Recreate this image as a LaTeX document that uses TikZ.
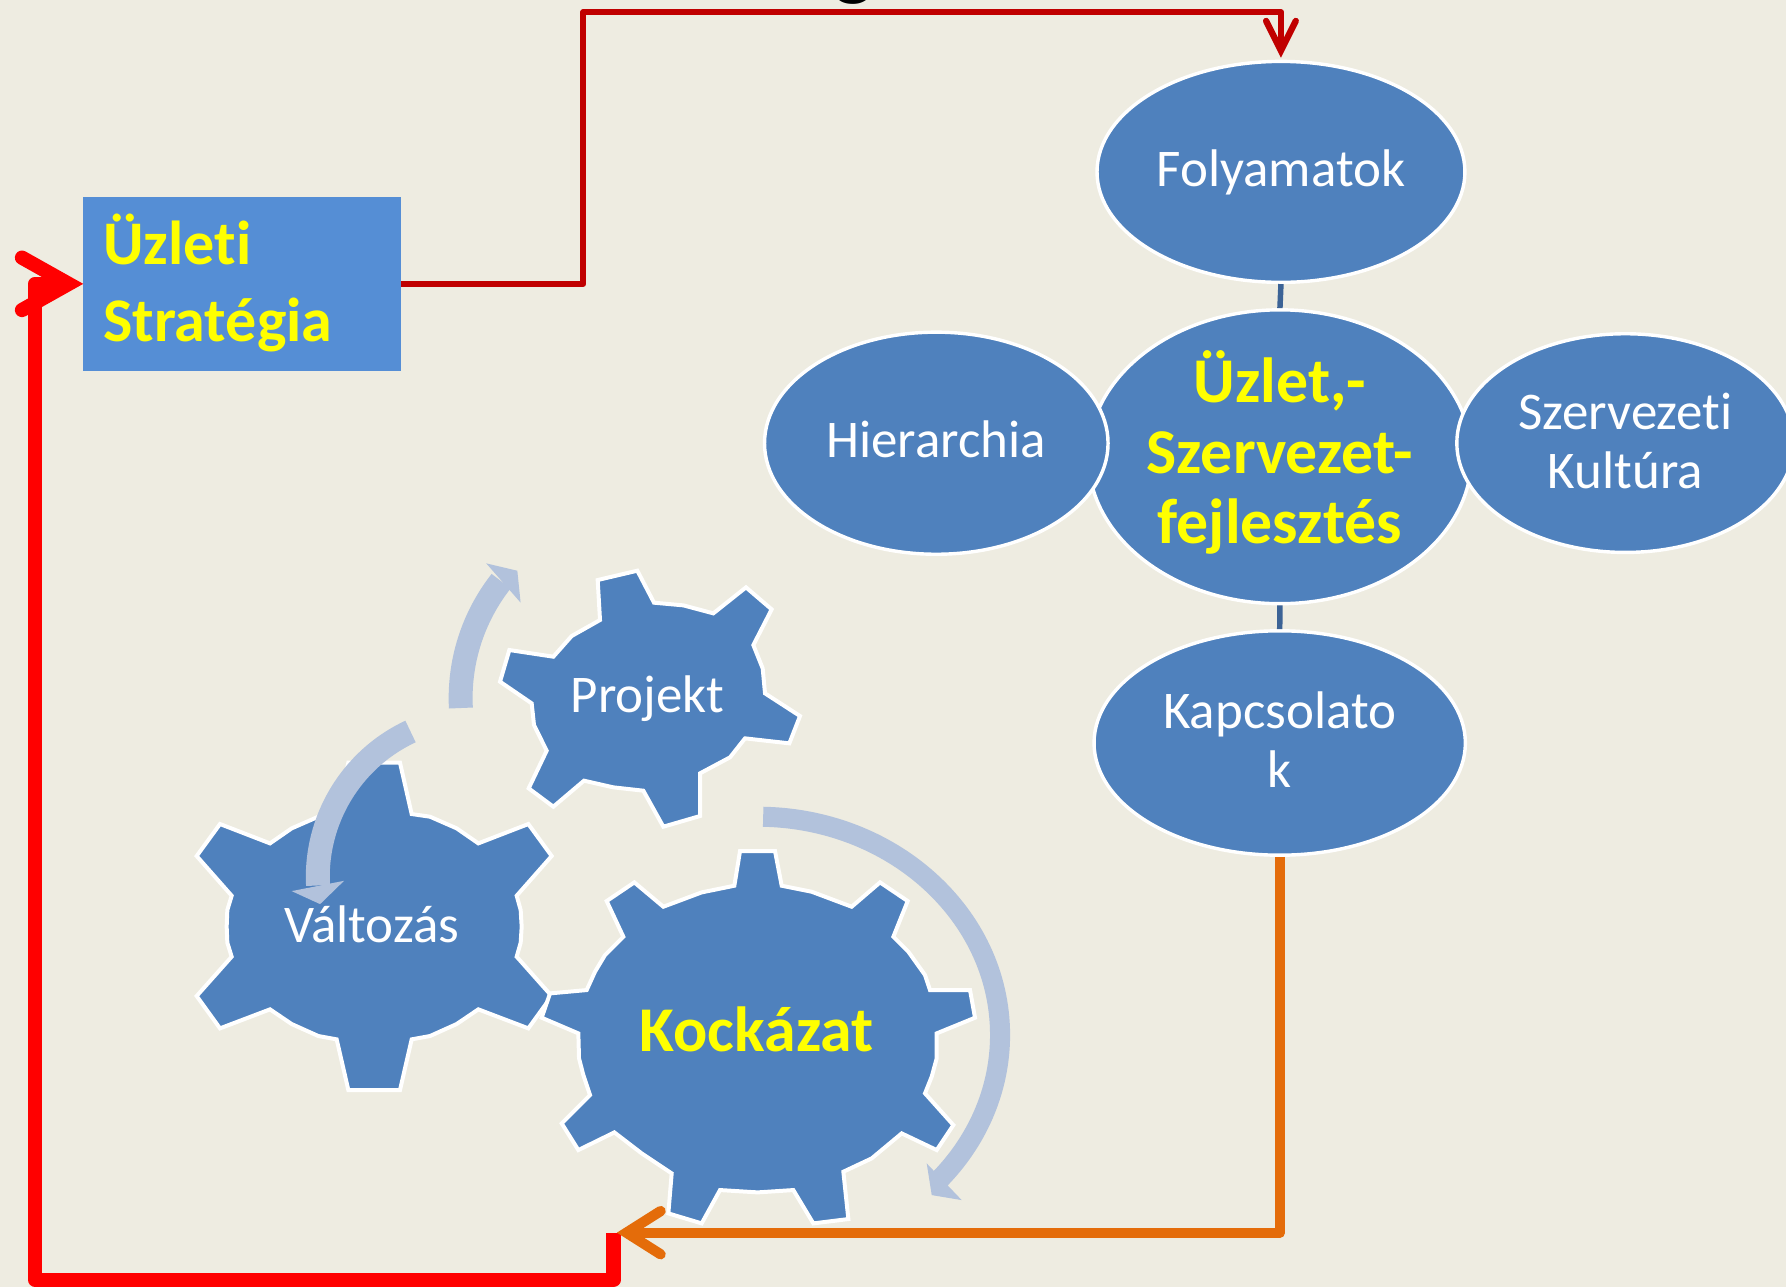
\documentclass[tikz,border=0pt]{standalone}
\usepackage{fontspec}
\setmainfont{Carlito}[Ligatures={NoCommon}]
\usetikzlibrary{shapes.geometric}
\definecolor{bgcol}{RGB}{238,236,225}
\definecolor{ellblue}{RGB}{79,129,189}
\definecolor{boxblue}{RGB}{85,142,213}
\definecolor{darkred}{RGB}{192,0,0}
\definecolor{brightred}{RGB}{255,0,0}
\definecolor{orangeline}{RGB}{228,108,10}
\definecolor{linkblue}{RGB}{60,99,150}
\definecolor{arccol}{RGB}{178,194,220}
\definecolor{txtyellow}{RGB}{255,255,0}
\begin{document}
\begin{tikzpicture}[x=1pt,y=-1pt,
  ell/.style={ellipse, fill=ellblue, draw=white, line width=3pt, inner sep=0pt, text=white,
    font={\fontsize{46.5pt}{51.5pt}\selectfont}},
  ellbold/.style={ell, text=txtyellow, font={\bfseries\fontsize{56pt}{62pt}\selectfont}},
  stratbox/.style={rectangle, fill=boxblue, inner sep=0pt, text=txtyellow,
    font={\bfseries\fontsize{54.5pt}{68pt}\selectfont}},
  gearshape/.style={fill=ellblue, draw=white, line width=3.5pt, line join=miter},
  geartext/.style={anchor=base, inner sep=0pt, text=white, font={\fontsize{46.5pt}{51.5pt}\selectfont}},
  gearbold/.style={anchor=base, inner sep=0pt, text=txtyellow, font={\bfseries\fontsize{56pt}{62pt}\selectfont}},
  linkline/.style={draw=linkblue, line width=4.8pt},
  drline/.style={draw=darkred, line width=5.6pt, line join=round},
  redline/.style={draw=brightred, line width=12.5pt, line join=round},
  orline/.style={draw=orangeline, line width=9pt, line join=round},
  band/.style={draw=arccol},
  headfill/.style={fill=arccol}
]
\fill[bgcol] (0,0) rectangle (1568,1130);
\useasboundingbox (0,0) rectangle (1568,1130);
\begin{scope}
\clip (0,0) rectangle (1568,1130);

% fragment of a title letter, cut by the top edge as in the reference
\node[anchor=base, inner sep=0pt, text=black, font={\bfseries\fontsize{72pt}{72pt}\selectfont}] (gfrag) at (749.7,-8) {g};

% strategy box
\node[stratbox, minimum width=278.8pt, minimum height=152.4pt, text height=0pt, text depth=34.4pt]
  (box) at (212.4,249.2)
  {\makebox[243.4pt][l]{\begin{tabular}[t]{@{}l@{}}Üzleti\\Stratégia\end{tabular}}};

% gears
\begin{scope}[shift={(166.81,658.47)}, x=0.29265pt, y=-0.29265pt]
\draw[gearshape] (475,38) -- (630,38) -- (665,192) -- (720,200) -- (800,235) -- (865,280)
  -- (1015,222) -- (1085,318) -- (980,437) -- (992,480) -- (995,530) -- (992,578) -- (980,620)
  -- (1085,738) -- (1015,835) -- (865,778) -- (800,822) -- (720,858) -- (665,868)
  -- (630,1020) -- (475,1020) -- (440,868) -- (385,858) -- (305,822) -- (240,778)
  -- (90,835) -- (20,738) -- (125,620) -- (112,578) -- (110,530) -- (112,480) -- (125,437)
  -- (20,318) -- (90,222) -- (240,280) -- (305,235) -- (385,200) -- (440,192) -- cycle;
\end{scope}
\begin{scope}[shift={(377.52,474.10)}, x=0.29265pt, y=-0.29265pt]
\draw[gearshape] (503,120) -- (622,92) -- (672,188) -- (760,196) -- (850,220) -- (948,142)
  -- (1025,208) -- (970,315) -- (998,385) -- (1005,460) -- (1110,528) -- (1078,610)
  -- (945,595) -- (900,652) -- (810,700) -- (810,828) -- (700,860) -- (640,752)
  -- (550,742) -- (462,722) -- (370,800) -- (296,745) -- (350,632) -- (312,555)
  -- (305,490) -- (210,425) -- (238,330) -- (370,350) -- (425,288) -- (510,240) -- cycle;
\end{scope}
\begin{scope}[shift={(469.71,698.0)}, x=0.29265pt, y=-0.29265pt]
\draw[gearshape] (615,168) -- (720,168) -- (740,272) -- (830,290) -- (950,335) -- (1035,262)
  -- (1118,318) -- (1075,425) -- (1120,470) -- (1170,540) -- (1185,585) -- (1305,585)
  -- (1320,668) -- (1205,715) -- (1205,790) -- (1190,845) -- (1170,895) -- (1255,990)
  -- (1205,1065) -- (1100,1015) -- (1010,1090) -- (925,1130) -- (940,1272) -- (835,1285)
  -- (775,1185) -- (668,1192) -- (555,1185) -- (500,1285) -- (400,1255) -- (410,1135)
  -- (320,1075) -- (238,1012) -- (130,1065) -- (80,985) -- (165,900) -- (145,840)
  -- (132,790) -- (130,715) -- (20,668) -- (45,595) -- (155,585) -- (180,530)
  -- (210,480) -- (265,425) -- (215,318) -- (298,262) -- (385,335) -- (500,292)
  -- (598,272) -- cycle;
\end{scope}
\node[geartext] (projt) at (568.5,625.7) {Projekt};
\node[geartext] (valt) at (326.3,827.6) {Változás};
\node[gearbold] (kockt) at (664.3,923.3) {Kockázat};

% circular arrows
\begin{scope}[shift={(570.4,612.9)}, y=1pt]
\draw[band, line width=21pt] (183:166) arc[start angle=183, end angle=141.8, radius=166];
\fill[headfill] (136.1:161.3) -- (140.5:186) -- (143.5:141) -- cycle;
\end{scope}
\begin{scope}[shift={(420,770)}, y=1pt]
\draw[band, line width=21pt] (115:141) arc[start angle=115, end angle=183, radius=141];
\fill[headfill] (189.7:141) -- (184.3:164.4) -- (181.6:118) -- cycle;
\end{scope}
\begin{scope}[shift={(665.2,908.7)}, y=1pt]
\draw[band, line width=17.6pt] (88.7:212.8 and 191.7)
  arc[start angle=88.7, end angle=-41.5, x radius=212.8, y radius=191.7];
\fill[headfill] (152.8,-140.5) -- (148.4,-112.7) -- (179.1,-144.9) -- cycle;
\end{scope}

% ellipses
\node[ellbold, minimum width=336.4pt, minimum height=258pt, text height=0pt, text depth=95pt]
  (cen) at (1123.7,401)
  {\begin{tabular}[t]{@{}c@{}}Üzlet,-\\Szervezet-\\fejlesztés\end{tabular}};
\node[ell, minimum width=301.6pt, minimum height=195pt, text height=24.8pt, text depth=0pt]
  (hie) at (822,389.1) {Hierarchia};
\node[ell, minimum width=296pt, minimum height=192pt, text height=0pt, text depth=24pt]
  (szk) at (1427,389) {\begin{tabular}[t]{@{}c@{}}Szervezeti\\Kultúra\end{tabular}};
\node[ell, minimum width=323pt, minimum height=194pt, text height=26.2pt, text depth=0pt]
  (fol) at (1124.6,150.9) {Folyamatok};
\node[ell, minimum width=326pt, minimum height=197pt, text height=0pt, text depth=25.6pt]
  (kap) at (1123.5,652.3) {\begin{tabular}[t]{@{}c@{}}Kapcsolato\\k\end{tabular}};

\draw[linkline] (fol.south) -- (cen.north);
\draw[linkline] (cen.south) -- (kap.north);

% connectors
\coordinate (drap) at ([yshift=8pt]fol.north);
\draw[drline] (box.east) -| (512,10.8) -| (drap);
\draw[drline, line cap=round, line join=miter] (drap) ++(-13,-26) -- (drap) -- ++(13,-26);

\coordinate (rtip) at (538.7,1082.2);
\coordinate (rap) at ([xshift=-12.5pt]box.west);
\draw[redline] (rtip) |- (30.8,1123.5) |- (rap);
\draw[redline, line cap=round, line join=miter] (rap) ++(-41,-23) -- (rap) -- ++(-41,23);

\coordinate (oap) at (550,1082.2);
\draw[orline] (kap.south) |- (oap);
\draw[orline, line cap=round, line join=miter] (oap) ++(30,-19) -- (oap) -- ++(30,19);
\end{scope}
\end{tikzpicture}
\end{document}
